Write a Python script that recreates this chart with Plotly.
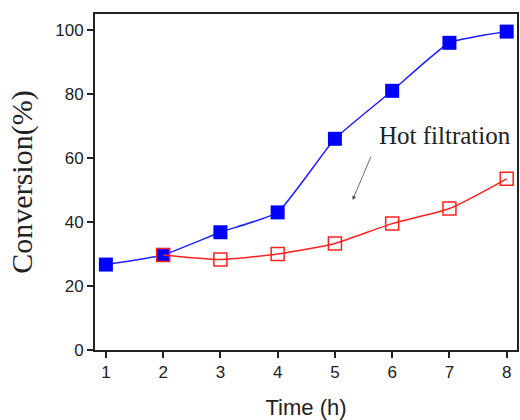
import plotly.graph_objects as go

time_blue = [1, 2, 3, 4, 5, 6, 7, 8]
conv_blue = [26.7, 29.7, 36.8, 43.0, 66.0, 81.0, 96.0, 99.5]
time_red = [2, 3, 4, 5, 6, 7, 8]
conv_red = [29.7, 28.3, 30.0, 33.3, 39.5, 44.2, 53.5]
x_ticks = [1, 2, 3, 4, 5, 6, 7, 8]
y_ticks = [0, 20, 40, 60, 80, 100]

fig = go.Figure()
fig.add_trace(go.Scatter(
    x=time_blue, y=conv_blue, mode="lines+markers",
    line=dict(color="#1f1fff", width=1.5, shape="spline", smoothing=0.4),
    marker=dict(symbol="square", size=14, color="#0000ff"),
    showlegend=False))
fig.add_trace(go.Scatter(
    x=time_red, y=conv_red, mode="lines+markers",
    line=dict(color="#ff2020", width=1.5, shape="spline", smoothing=0.6),
    marker=dict(symbol="square-open", size=13, color="#ff2020", line=dict(width=1.5)),
    showlegend=False))

fig.add_annotation(x=6.92, y=67.0, text="Hot filtration", showarrow=False,
                   font=dict(family="Liberation Serif", size=25, color="#222"))
fig.add_annotation(x=5.31, y=46.9, ax=5.64, ay=60.9, xref="x", yref="y", axref="x", ayref="y",
                   showarrow=True, arrowhead=2, arrowsize=1, arrowwidth=0.8,
                   arrowcolor="#444", text="")

fig.update_layout(
    width=520, height=420,
    margin=dict(l=95, r=1, t=14, b=70),
    paper_bgcolor="white", plot_bgcolor="white",
    font=dict(family="Liberation Sans", size=17, color="#222"),
)
fig.update_xaxes(range=[0.81, 8.18], tickvals=x_ticks, ticks="outside", ticklen=6,
                 tickwidth=1.5, tickcolor="#222", showline=True, linewidth=2, linecolor="#222",
                 mirror=True, showgrid=False, zeroline=False,
                 title=dict(text="Time (h)", font=dict(family="Liberation Sans", size=22), standoff=18))
fig.update_yaxes(range=[0, 105], tickvals=y_ticks, ticks="outside", ticklen=6,
                 tickwidth=1.5, tickcolor="#222", showline=True, linewidth=2, linecolor="#222",
                 mirror=True, showgrid=False, zeroline=False,
                 title=dict(text="Conversion(%)", font=dict(family="Liberation Serif", size=30), standoff=14))

fig.write_html("out.html")
